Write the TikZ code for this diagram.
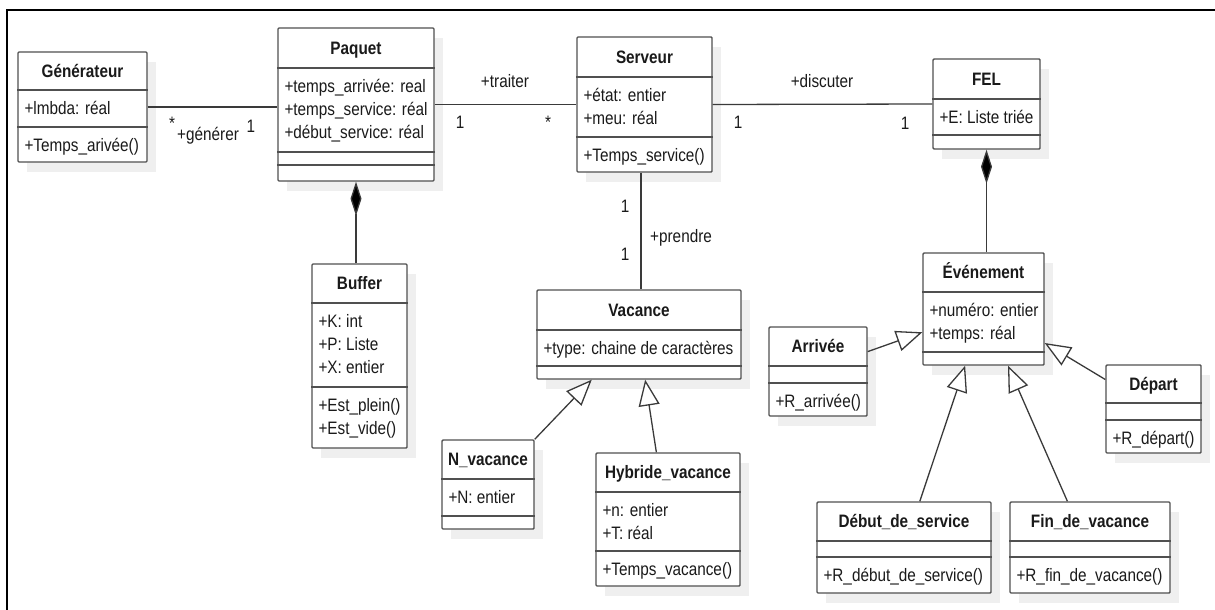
\documentclass[tikz,border=0pt]{standalone}
\usepackage{fontspec}
\setmainfont{Liberation Sans}[FakeStretch=0.85]
\usetikzlibrary{arrows.meta,calc,fit}

\definecolor{shadowc}{HTML}{EFEFEF}
\definecolor{boxline}{HTML}{505050}
\definecolor{linkc}{HTML}{3A3A3A}
\definecolor{inkc}{HTML}{1A1A1A}

% UML class box: name, top-left, bottom-right, y of the two separators,
% title, attribute lines, operation lines
\newcommand\umlclass[8]{%
  \fill[shadowc] ($#2+(9,10)$) rectangle ($#3+(9,10)$);
  \node[classbox, fit={#2 #3}] (#1) {};
  \draw[sepline] (#1.west |- 0,#4) -- (#1.east |- 0,#4);
  \draw[sepline] (#1.west |- 0,#5) -- (#1.east |- 0,#5);
  \node[ctitle] (#1-t) at ($(#1.north)!0.5!(#1.north |- 0,#4)$) {#6};
  \node[rowtext] (#1-a) at ($(#1.west |- 0,#4)+(7,8)$) {\strut#7};
  \node[rowtext] (#1-m) at ($(#1.west |- 0,#5)+(7,8)$) {\strut#8};
}

\begin{document}
\begin{tikzpicture}[x=1pt,y=-1pt,
  classbox/.style={draw=boxline, line width=1.4pt, fill=white, inner sep=0pt, rounded corners=1pt},
  sepline/.style={draw=boxline, line width=1.4pt},
  ctitle/.style={font=\fontsize{18}{23}\selectfont\bfseries, text=inkc, inner sep=0pt,
    text height=12.9pt, text depth=0pt, anchor=center},
  rowtext/.style={font=\fontsize{18}{23}\selectfont, text=inkc, inner sep=0pt,
    align=left, anchor=north west},
  lbl/.style={font=\fontsize{18}{23}\selectfont, text=inkc, inner sep=0pt, anchor=base},
  link/.style={draw=linkc, line width=1.3pt},
  compo/.style={-{Diamond[length=34pt, width=11pt, fill=black]}},
  inherit/.style={-{Triangle[length=26pt, width=21pt, fill=white]}}]

\useasboundingbox (0,0) rectangle (1215,610);
\draw[line width=2.6pt] (7,610) -- (7,10) -- (1215,10);

% classes
\umlclass{gen}{(18,52)}{(147,162)}{90}{127}{Générateur}
  {+lmbda: réal}{+Temps\_arivée()}
\umlclass{paq}{(278,28)}{(434,181)}{68}{152}{Paquet}
  {+temps\_arrivée: real\\+temps\_service: réal\\+début\_service: réal}{}
\draw[sepline] (paq.west |- 0,165) -- (paq.east |- 0,165);
\umlclass{serv}{(577,37)}{(712,172)}{77}{137}{Serveur}
  {+état: entier\\+meu: réal}{+Temps\_service()}
\umlclass{fel}{(933,59)}{(1040,149)}{99}{135}{FEL}
  {+E: Liste triée}{}
\umlclass{buf}{(312,264)}{(407,448)}{303}{387}{Buffer}
  {+K: int\\+P: Liste\\+X: entier}{+Est\_plein()\\+Est\_vide()}
\umlclass{vac}{(537,290)}{(741,379)}{330}{366}{Vacance}
  {+type: chaine de caractères}{}
\umlclass{nvac}{(442,440)}{(534,529)}{479}{516}{N\_vacance}
  {+N: entier}{}
\umlclass{hyb}{(596,453)}{(740,586)}{492}{551}{Hybride\_vacance}
  {+n: entier\\+T: réal}{+Temps\_vacance()}
\umlclass{ev}{(923,253)}{(1044,365)}{292}{352}{Événement}
  {+numéro: entier\\+temps: réal}{}
\umlclass{arr}{(769,327)}{(867,416)}{366}{383}{Arrivée}
  {}{+R\_arrivée()}
\umlclass{dep}{(1106,365)}{(1201,453)}{403}{420}{Départ}
  {}{+R\_départ()}
\umlclass{deb}{(817,502)}{(991,593)}{541}{557}{Début\_de\_service}
  {}{+R\_début\_de\_service()}
\umlclass{fin}{(1010,502)}{(1170,593)}{541}{557}{Fin\_de\_vacance}
  {}{+R\_fin\_de\_vacance()}

% associations
\draw[link] (gen.east) -- (gen.east -| paq.west);
\draw[link] (paq.east) -- (serv.west);
\draw[link] (serv.east) -- (fel.west);
\coordinate (prn) at ($(vac.north)+(2,0)$);
\draw[link] (prn |- serv.south) -- (prn);

% compositions
\draw[link, compo] (paq.south |- buf.north) -- (paq.south);
\draw[link, compo] (fel.south |- ev.north) -- (fel.south);

% generalizations
\coordinate (g1) at ($(vac.south west)!0.27!(vac.south east)$);
\draw[link, inherit] (nvac.north east) -- (g1);
\coordinate (h1) at ($(hyb.north west)!0.42!(hyb.north east)$);
\coordinate (h2) at ($(vac.south west)!0.53!(vac.south east)$);
\draw[link, inherit] (h1) -- (h2);
\coordinate (a1) at ($(arr.north east)!0.28!(arr.south east)$);
\coordinate (a2) at ($(ev.north west)!0.705!(ev.south west)$);
\draw[link, inherit] (a1) -- (a2);
\coordinate (d1) at ($(dep.north west)!0.17!(dep.south west)$);
\coordinate (d2) at ($(ev.north east)!0.8!(ev.south east)$);
\draw[link, inherit] (d1) -- (d2);
\coordinate (b1) at ($(deb.north west)!0.59!(deb.north east)$);
\coordinate (b2) at ($(ev.south west)!0.35!(ev.south east)$);
\draw[link, inherit] (b1) -- (b2);
\coordinate (f1) at ($(fin.north west)!0.36!(fin.north east)$);
\coordinate (f2) at ($(ev.south west)!0.70!(ev.south east)$);
\draw[link, inherit] (f1) -- (f2);

% role names and multiplicities
\node[lbl] (m1) at (172,129) {*};
\node[lbl, anchor=base west] (r1) at (177,140) {+générer};
\node[lbl] (m2) at (251,132) {1};
\node[lbl] (r2) at (505,87) {+traiter};
\node[lbl] (m3) at (460,128) {1};
\node[lbl] (m4) at (548,128) {*};
\node[lbl] (r3) at (822,87) {+discuter};
\node[lbl] (m5) at (738,128) {1};
\node[lbl] (m6) at (905,129) {1};
\node[lbl] (m7) at (625,212) {1};
\node[lbl, anchor=base west] (r4) at (650,242) {+prendre};
\node[lbl] (m8) at (625,260) {1};
\end{tikzpicture}
\end{document}
